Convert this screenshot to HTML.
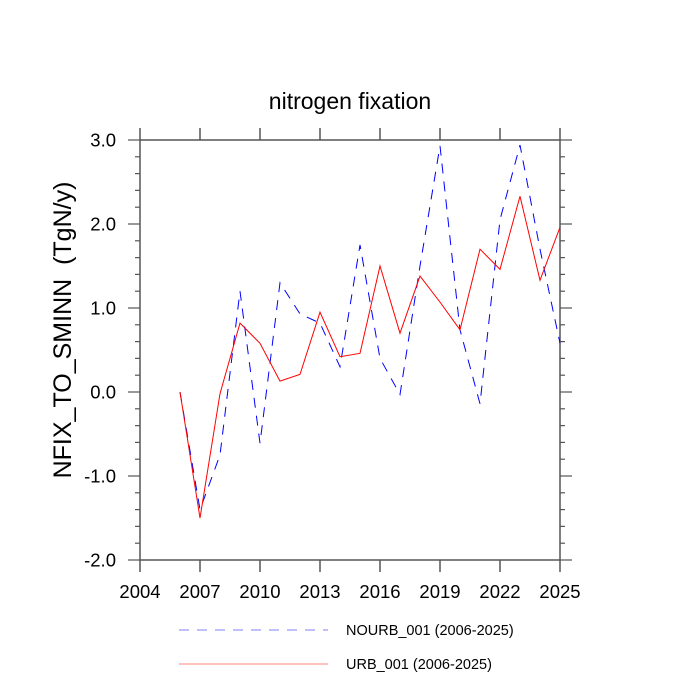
<!DOCTYPE html>
<html><head><meta charset="utf-8"><style>
body{margin:0;background:#fff}
svg{display:block;font-family:"Liberation Sans",sans-serif}
</style></head><body>
<svg id="chart" width="700" height="700" viewBox="0 0 700 700">
<text x="350" y="109" font-size="23" text-anchor="middle">nitrogen fixation</text>
<text transform="translate(71,330) rotate(-90)" font-size="25" text-anchor="middle">NFIX_TO_SMINN&#160;&#160;(TgN/y)</text>
<g id="axes"></g>
<g id="series"></g>
<g>
<line x1="179" y1="630" x2="328" y2="630" stroke="#8080ff" stroke-width="1" stroke-dasharray="10,8"/>
<text x="346" y="635" font-size="14.5">NOURB_001 (2006-2025)</text>
<line x1="179" y1="664" x2="328" y2="664" stroke="#ff8080" stroke-width="1"/>
<text x="346" y="669" font-size="14.5">URB_001 (2006-2025)</text>
</g>
</svg>
<script>
const years=[2006,2007,2008,2009,2010,2011,2012,2013,2014,2015,2016,2017,2018,2019,2020,2021,2022,2023,2024,2025];
const nourb=[0.0,-1.4,-0.75,1.2,-0.61,1.3,0.93,0.82,0.3,1.75,0.4,-0.03,1.5,2.93,0.74,-0.14,2.05,2.94,1.7,0.58];
const urb=[0.0,-1.5,-0.02,0.82,0.58,0.13,0.21,0.95,0.42,0.46,1.5,0.7,1.38,1.07,0.74,1.7,1.46,2.33,1.33,1.96];
const xTicks=[2004,2007,2010,2013,2016,2019,2022,2025];
const yTicks=[-2,-1,0,1,2,3];
const yLabels=["-2.0","-1.0","0.0","1.0","2.0","3.0"];
const L=140,R=560,T=140,B=560,X0=2004,X1=2025,Y0=-2,Y1=3;
const xs=v=>L+(v-X0)/(X1-X0)*(R-L);
const ys=v=>B-(v-Y0)/(Y1-Y0)*(B-T);
const NS="http://www.w3.org/2000/svg";
function mk(tag,attrs,parent){const e=document.createElementNS(NS,tag);for(const k in attrs)e.setAttribute(k,attrs[k]);parent.appendChild(e);return e;}
const ax=document.getElementById('axes');
let f=mk('rect',{x:L,y:T,width:R-L,height:B-T,fill:'none',stroke:'#555','stroke-width':1.5},ax);


xTicks.forEach(v=>{
  const x=xs(v);
  let t=mk('line',{x1:x,y1:B,x2:x,y2:B+12,stroke:'#555','stroke-width':1.5},ax);
  
  
  let t2=mk('line',{x1:x,y1:T,x2:x,y2:T-12,stroke:'#555','stroke-width':1.5},ax);
  
  
  let l=mk('text',{x:x,y:598,'font-size':18.5,'text-anchor':'middle'},ax);
  l.textContent=v;
  
  
});
for(let v=Y0;v<=Y1+1e-9;v+=0.2){
  const y=ys(v);const major=Math.abs(v-Math.round(v))<1e-6;const len=major?12:5;
  let a=mk('line',{x1:L,y1:y,x2:L-len,y2:y,stroke:'#555','stroke-width':1.2},ax);
  
  
  let b=mk('line',{x1:R,y1:y,x2:R+len,y2:y,stroke:'#555','stroke-width':1.2},ax);
  
  
}
yTicks.forEach((v,i)=>{
  let l=mk('text',{x:116,y:ys(v)+6.5,'font-size':18.5,'text-anchor':'end'},ax);
  l.textContent=yLabels[i];
  
  
});
const sg=document.getElementById('series');
const pts=a=>a.map((v,i)=>xs(years[i])+','+ys(v)).join(' ');
let p1=mk('polyline',{points:pts(nourb),fill:'none',stroke:'#0000ff','stroke-width':1,'stroke-dasharray':'10,8'},sg);


let p2=mk('polyline',{points:pts(urb),fill:'none',stroke:'#ff0000','stroke-width':1},sg);


</script>
</body></html>
